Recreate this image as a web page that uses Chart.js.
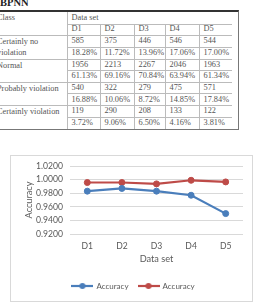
<!DOCTYPE html>
<html lang="en">
<head>
<meta charset="UTF-8">
<title>BPNN accuracy</title>
<script src="https://cdn.jsdelivr.net/npm/chart.js"></script>
<style>
    body {
        margin: 0;
        padding: 0;
        background: #fff;
        width: 253px;
        height: 308px;
        overflow: hidden;
        position: relative;
    }

    .caption {
        position: absolute;
        left: 0;
        top: -3px;
        font-family: 'Liberation Serif', serif;
        font-weight: bold;
        font-size: 10.5px;
        color: #222;
    }

    .frame {
        position: absolute;
        left: -6px;
        top: 10px;
        width: 244px;
        height: 117px;
        border-top: 2px solid #333;
        border-right: 1.5px solid #777;
        border-bottom: 1.5px solid #777;
    }

    table {
        position: absolute;
        left: 3px;
        top: 0;
        border-collapse: collapse;
        table-layout: fixed;
        font-family: 'Liberation Serif', serif;
        font-size: 8.3px;
        color: #555;
    }

    td {
        padding: 0 0 0 4px;
        white-space: nowrap;
        overflow: hidden;
        border: 1px solid #bbb;
        line-height: 1;
    }

    td.cls {
        padding-left: 0;
        border-left: none;
        vertical-align: top;
    }

    .chart-box {
        position: absolute;
        left: 10px;
        top: 155px;
        width: 241px;
        height: 145px;
        border: 1px solid #d9d9d9;
    }
</style>
</head>
<body>
<div class="caption">BPNN</div>
<div class="frame">
    <table id="tbl"></table>
</div>
<div class="chart-box">
    <canvas id="accChart" width="241" height="145"></canvas>
</div>

<script>
    // table contents
    const dataSets = ['D1', 'D2', 'D3', 'D4', 'D5'];
    const classNames = [['Certainly no', 'violation'], ['Normal'], ['Probably violation'], ['Certainly violation']];
    const counts = [
        [585, 375, 446, 546, 544],
        [1956, 2213, 2267, 2046, 1963],
        [540, 322, 279, 475, 571],
        [119, 290, 208, 133, 122]
    ];
    const percents = [
        ['18.28%', '11.72%', '13.96%', '17.06%', '17.00%'],
        ['61.13%', '69.16%', '70.84%', '63.94%', '61.34%'],
        ['16.88%', '10.06%', '8.72%', '14.85%', '17.84%'],
        ['3.72%', '9.06%', '6.50%', '4.16%', '3.81%']
    ];

    // chart data
    const categories = ['D1', 'D2', 'D3', 'D4', 'D5'];
    const accuracyBlue = [0.9830, 0.9870, 0.9830, 0.9770, 0.9500];
    const accuracyRed = [0.9957, 0.9957, 0.9937, 0.9990, 0.9966];
    const yTicks = { min: 0.92, max: 1.02, step: 0.02 };

    // build the table
    const colWidths = [70, 33, 34, 31, 34, 33];
    const tbl = document.getElementById('tbl');
    let html = '<colgroup>' + colWidths.map(w => `<col style="width:${w}px">`).join('') + '</colgroup>';
    html += '<tr style="height:12px"><td class="cls" rowspan="2" style="border-top:none">Class</td>' +
        '<td colspan="5" style="border-top:none;border-right:none">Data set</td></tr>';
    html += '<tr style="height:11px">' + dataSets.map((d, i) =>
        `<td style="${i === 4 ? 'border-right:none' : ''}">${d}</td>`).join('') + '</tr>';
    counts.forEach((row, r) => {
        const last = r === counts.length - 1 ? 'border-bottom:none;' : '';
        const name = classNames[r];
        html += '<tr style="height:11.6px">' +
            `<td class="cls" rowspan="2" style="${last}">${name.join('<br>')}</td>` +
            row.map((v, i) => `<td style="${i === 4 ? 'border-right:none' : ''}">${v}</td>`).join('') + '</tr>';
        html += '<tr style="height:11.6px">' +
            percents[r].map((v, i) => `<td style="${last}${i === 4 ? 'border-right:none' : ''}">${v}</td>`).join('') + '</tr>';
    });
    tbl.innerHTML = html;
    // line spacing for the two-line class label
    tbl.querySelectorAll('td.cls').forEach(td => {
        td.style.lineHeight = '11.6px';
    });

    // legend icons: line with a dot, like the original
    function legendIcon(color) {
        const c = document.createElement('canvas');
        c.width = 22;
        c.height = 8;
        const g = c.getContext('2d');
        g.strokeStyle = color;
        g.lineWidth = 2.2;
        g.beginPath();
        g.moveTo(0, 4);
        g.lineTo(22, 4);
        g.stroke();
        g.fillStyle = color;
        g.beginPath();
        g.arc(11, 4, 3, 0, Math.PI * 2);
        g.fill();
        return c;
    }

    const blue = '#4a7ebb';
    const red = '#be4b48';
    const icons = [legendIcon(blue), legendIcon(red)];
    const textColor = '#595959';

    Chart.defaults.font.family = 'Lato';
    Chart.defaults.color = textColor;

    const ctx = document.getElementById('accChart').getContext('2d');
    const accChart = new Chart(ctx, {
        type: 'line',
        data: {
            labels: categories,
            datasets: [{
                label: 'Accuracy',
                data: accuracyBlue,
                borderColor: blue,
                backgroundColor: blue,
                borderWidth: 2.2,
                pointRadius: 3,
                pointBorderWidth: 1,
                tension: 0
            }, {
                label: 'Accuracy',
                data: accuracyRed,
                borderColor: red,
                backgroundColor: red,
                borderWidth: 2.2,
                pointRadius: 3,
                pointBorderWidth: 1,
                tension: 0
            }]
        },
        options: {
            responsive: false,
            animation: false,
            layout: { padding: { left: 13, right: 9, top: 10, bottom: 1 } },
            scales: {
                x: {
                    offset: true,
                    grid: { display: false, drawTicks: false },
                    border: { display: false },
                    ticks: { padding: 7, font: { size: 8.6 }, color: textColor },
                    title: {
                        display: true,
                        text: 'Data set',
                        font: { size: 9.2 },
                        color: textColor,
                        padding: { top: 0, bottom: 7 }
                    },
                    afterFit: scale => { scale.height = 38; }
                },
                y: {
                    min: yTicks.min,
                    max: yTicks.max,
                    grid: { color: '#d9d9d9', drawTicks: false },
                    border: { display: false },
                    ticks: {
                        stepSize: yTicks.step,
                        autoSkip: false,
                        padding: 7,
                        font: { size: 8.6 },
                        color: textColor,
                        callback: v => v.toFixed(4)
                    },
                    title: {
                        display: true,
                        text: 'Accuracy',
                        font: { size: 9.2 },
                        color: textColor,
                        padding: { top: 0, bottom: 0 }
                    },
                    // fixed axis width, and keep the plot top where the padding puts it
                    afterFit: scale => {
                        scale.width = 46;
                        scale.paddingTop = 0;
                        scale.paddingBottom = 0;
                    }
                }
            },
            plugins: {
                legend: {
                    position: 'bottom',
                    labels: {
                        usePointStyle: true,
                        pointStyleWidth: 20,
                        padding: 10,
                        font: { size: 8 },
                        color: textColor,
                        generateLabels: chart => {
                            const items = Chart.defaults.plugins.legend.labels.generateLabels(chart);
                            items.forEach((it, i) => { it.pointStyle = icons[i]; });
                            return items;
                        }
                    }
                },
                tooltip: { enabled: false }
            }
        }
    });
</script>
</body>
</html>
